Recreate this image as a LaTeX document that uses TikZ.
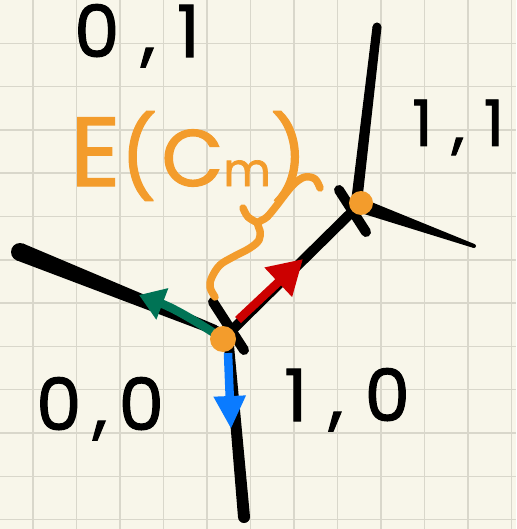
\documentclass[tikz,border=0pt]{standalone}
\usepackage{fontspec}
\setmainfont{Poppins}
\newfontfamily\hand{Poppins}[FakeBold=1.5, LetterSpace=16]
\newfontfamily\handW{Poppins}[FakeBold=1.5, LetterSpace=30]
\newfontfamily\handE{Poppins}[FakeBold=1.5, LetterSpace=6]
\usetikzlibrary{arrows.meta,calc}
\definecolor{paper}{HTML}{F8F6EA}
\definecolor{gridc}{HTML}{D9D7CB}
\definecolor{orng}{HTML}{F39C2C}
\definecolor{redc}{HTML}{CC0000}
\definecolor{grn}{HTML}{007355}
\definecolor{blu}{HTML}{0A7BFF}
% tapered stroke: #1 start, #2 half width at start, #3 end, #4 half width at end
\newcommand\taperline[4]{%
  \fill ($(#1)!#2!90:(#3)$) -- ($(#3)!#4!-90:(#1)$) -- ($(#3)!#4!90:(#1)$) -- ($(#1)!#2!-90:(#3)$) -- cycle;
  \fill (#1) circle[radius=#2];
  \fill (#3) circle[radius=#4];}
\tikzset{
  lbl/.style={font=\hand\fontsize{72}{80}\selectfont, anchor=base west, inner sep=0pt},
  edgeline/.style={line width=10pt, line cap=round},
  vdot/.style={circle, fill=orng, minimum size=26pt, inner sep=0pt},
  arr/.style={line width=8.5pt}
}
\begin{document}
\begin{tikzpicture}[x=1pt,y=-1pt]
\useasboundingbox (0,0) rectangle (516,529);
\fill[paper] (0,0) rectangle (516,529);
% grid
\foreach \i in {0,...,11} \draw[gridc, line width=1.4pt] ({33+43.5*\i},0) -- ({33+43.5*\i},529);
\foreach \j in {1,...,12} \draw[gridc, line width=1.4pt] (0,{43.3*\j}) -- (516,{43.3*\j});
% coordinates
\coordinate (A) at (223,339);
\coordinate (B) at (361,203);
\coordinate (L) at (20,252);
\coordinate (Ai) at (215,330);
\coordinate (D1) at (229,346);
\coordinate (D2) at (244,517);
\coordinate (U1) at (357,198);
\coordinate (U2) at (377,27);
\coordinate (R1) at (365,207);
\coordinate (R2) at (474,246);
\coordinate (TA1) at (213,302);
\coordinate (TA2) at (244,350);
\coordinate (TB1) at (339,190);
\coordinate (TB2) at (366,232);
% black rays
\taperline{L}{9pt}{Ai}{5pt}
\taperline{D1}{5pt}{D2}{6pt}
\taperline{U1}{5.5pt}{U2}{4.5pt}
\taperline{R1}{7pt}{R2}{2pt}
\draw[edgeline] (A) -- (B);
\draw[edgeline] (TA1) -- (TA2);
\draw[edgeline] (TB1) -- (TB2);
% coloured arrows
\coordinate (rs) at (238,320);
\coordinate (rt) at (303,259);
\coordinate (gs) at (214,333);
\coordinate (gt) at (139,295);
\coordinate (bs) at (228,353);
\coordinate (bt) at (231,429);
\draw[arr, redc, -{Triangle[length=34pt,width=38pt]}] (rs) -- (rt);
\draw[arr, grn, -{Triangle[length=25pt,width=32pt]}] (gs) to[bend right=6] (gt);
\draw[arr, blu, -{Triangle[length=33pt,width=30pt]}] (bs) -- (bt);
% vertices
\node[vdot] (vA) at (A) {};
\node[vdot, minimum size=24pt] (vB) at (B) {};
% orange brace
\draw[orng, line width=7.5pt, line cap=round, line join=round]
  plot[smooth, tension=0.6] coordinates {(320,188) (315,179) (305,177) (295,183) (287,192) (277,205) (267,217) (258,223) (260,231) (259,240) (250,248) (233,257) (220,265) (212,277) (210,287) (215,297)};
\draw[orng, line width=7.5pt, line cap=round]
  plot[smooth, tension=0.6] coordinates {(243,208) (248,217) (258,223)};
% labels
\node[lbl, font=\handW\fontsize{72}{80}\selectfont] (l01) at (74,57) {0,1};
\node[lbl, font=\handW\fontsize{64}{70}\selectfont] (l11) at (412,146) {1,1};
\node[lbl] (l00) at (36,430) {0,0};
\node[lbl, font=\handW\fontsize{72}{80}\selectfont] (l10) at (284,421) {1,0};
\node[lbl, text=orng, font=\handE\fontsize{80}{96}\selectfont] (lE) at (70,186) {{\fontsize{98}{100}\selectfont E}(C{\fontsize{46}{50}\selectfont m})};
\end{tikzpicture}
\end{document}
